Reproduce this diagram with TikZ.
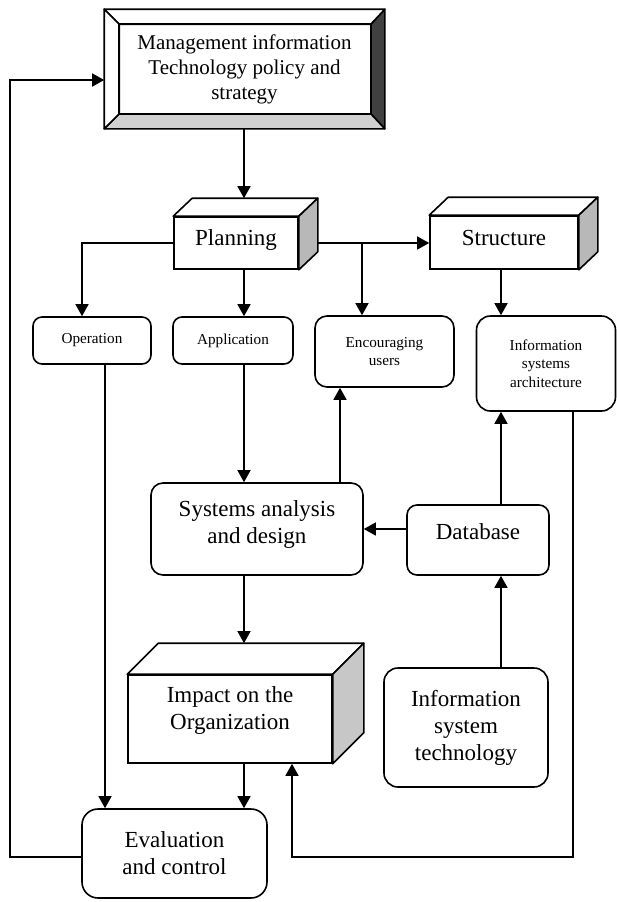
\documentclass[tikz,border=0pt]{standalone}
\usepackage{fontspec}
\setmainfont{Liberation Serif}
\usetikzlibrary{arrows.meta,calc}

\begin{document}
\begin{tikzpicture}[
  x=0.5pt, y=-0.5pt,
  box/.style={rectangle, draw, rounded corners=6pt, line width=0.8pt, align=center, inner sep=0pt, font=\fontsize{11.5}{13.5}\selectfont},
  small/.style={box, rounded corners=4.5pt, font=\fontsize{7.6}{9.2}\selectfont},
  front/.style={box, sharp corners, fill=white},
  side/.style={draw, line width=0.8pt, fill=black!28, line join=round},
  lid/.style={draw, line width=0.8pt, fill=white, line join=round},
  direct/.style={-{Triangle[length=6pt,width=6.5pt]}, line width=0.7pt}
]
\useasboundingbox (0,0) rectangle (617,902);

% Columns and rows for the connectors
\coordinate (col-op) at (82,0);
\coordinate (col-eval) at (105,0);
\coordinate (spine) at (244,0);
\coordinate (col-back) at (292,0);
\coordinate (col-users) at (340,0);
\coordinate (col-branch) at (362,0);
\coordinate (col-db) at (501,0);
\coordinate (col-arch) at (573,0);
\coordinate (loop-top) at (10,80);
\coordinate (loop-low) at (0,857);

% Policy (bevelled frame)
\node[box, sharp corners, minimum width=139.5pt, minimum height=59pt, font=\fontsize{10.5}{12.5}\selectfont] (policy) at (244.5,69) {Management information\\Technology policy and\\strategy};
\coordinate (pnw) at ($(policy.north west)+(15,15)$);
\coordinate (pne) at ($(policy.north east)+(-14,15)$);
\coordinate (pse) at ($(policy.south east)+(-14,-15)$);
\coordinate (psw) at ($(policy.south west)+(15,-15)$);
\draw[side, fill=black!75] (policy.north east) -- (policy.south east) -- (pse) -- (pne) -- cycle;
\draw[side, fill=black!18] (policy.south west) -- (policy.south east) -- (pse) -- (psw) -- cycle;
\draw[lid] (policy.north west) -- (policy.north east) -- (pne) -- (pnw) -- cycle;
\draw[lid] (policy.north west) -- (policy.south west) -- (psw) -- (pnw) -- cycle;
\draw[line width=0.8pt] (pnw) rectangle (pse);

% Planning and Structure (solid blocks)
\node[front, minimum width=62pt, minimum height=26pt, text depth=5.5pt] (planning) at (236,243) {Planning};
\draw[lid] (planning.north west) -- ++(19,-18) -- ($(planning.north east)+(19,-18)$) -- (planning.north east) -- cycle;
\draw[side] (planning.north east) -- ++(19,-18) -- ($(planning.south east)+(19,-18)$) -- (planning.south east) -- cycle;
\coordinate (planning-top) at ($(planning.north)+(19,-18)$);
\coordinate (planning-side) at ($(planning.east)+(19,0)$);

\node[front, minimum width=74pt, minimum height=26.5pt, text depth=5pt] (structure) at (504,242.5) {Structure};
\draw[lid] (structure.north west) -- ++(19,-18) -- ($(structure.north east)+(19,-18)$) -- (structure.north east) -- cycle;
\draw[side] (structure.north east) -- ++(19,-18) -- ($(structure.south east)+(19,-18)$) -- (structure.south east) -- cycle;

% Second row
\node[small, minimum width=59pt, minimum height=23.5pt] (operation) at (92,340.5) {Operation};
\node[small, minimum width=60pt, minimum height=23.5pt] (application) at (233,340.5) {Application};
\node[small, minimum width=69.5pt, minimum height=35.5pt, rounded corners=6pt] (encouraging) at (384.5,351.5) {Encouraging\\users};
\node[small, minimum width=69.5pt, minimum height=47.5pt, rounded corners=7pt] (architecture) at (546,363.5) {Information\\systems\\architecture};

% Middle
\node[box, minimum width=106pt, minimum height=46pt, text depth=6.5pt] (systems) at (257,529) {Systems analysis\\and design};
\node[box, minimum width=71pt, minimum height=35pt, rounded corners=5pt, text depth=8pt] (database) at (478,540) {Database};

% Impact (solid block)
\node[front, minimum width=102pt, minimum height=44pt, text depth=10.5pt] (impact) at (230,719) {Impact on the\\Organization};
\draw[lid] (impact.north west) -- ++(31,-31) -- ($(impact.north east)+(31,-31)$) -- (impact.north east) -- cycle;
\draw[side, fill=black!22] (impact.north east) -- ++(31,-31) -- ($(impact.south east)+(31,-31)$) -- (impact.south east) -- cycle;
\coordinate (impact-top) at ($(impact.north)+(31,-31)$);

\node[box, minimum width=82pt, minimum height=59.5pt, rounded corners=7pt] (technology) at (466,727.5) {Information\\system\\technology};
\node[box, minimum width=92.5pt, minimum height=44.5pt, rounded corners=8pt] (evaluation) at (174.5,853.5) {Evaluation\\and control};

% Policy -> Planning -> Structure
\draw[direct] (spine |- policy.south) -- (spine |- planning-top);
\draw[direct] (planning-side) -- (planning-side -| structure.west);
\draw[direct] (col-branch |- planning-side) -- (col-branch |- encouraging.north);
\draw[direct] (planning.west) -| (col-op |- operation.north);
\draw[direct] (spine |- planning.south) -- (spine |- application.north);
\draw[direct] (col-db |- structure.south) -- (col-db |- architecture.north);

% Middle connections
\draw[direct] (spine |- application.south) -- (spine |- systems.north);
\draw[direct] (col-users |- systems.north) -- (col-users |- encouraging.south);
\draw[direct] (database.west |- systems.east) -- (systems.east);
\draw[direct] (col-db |- database.north) -- (col-db |- architecture.south);
\draw[direct] (col-db |- technology.north) -- (col-db |- database.south);

% Down to Impact and Evaluation
\draw[direct] (spine |- systems.south) -- (spine |- impact-top);
\draw[direct] (spine |- impact.south) -- (spine |- evaluation.north);
\draw[direct] (col-eval |- operation.south) -- (col-eval |- evaluation.north);

% Feedback loops
\draw[direct] (col-arch |- architecture.south) -- (col-arch |- loop-low) -| (col-back |- impact.south);
\draw[direct] (evaluation.west |- loop-low) -| (loop-top) -- (loop-top -| policy.west);

\end{tikzpicture}
\end{document}
